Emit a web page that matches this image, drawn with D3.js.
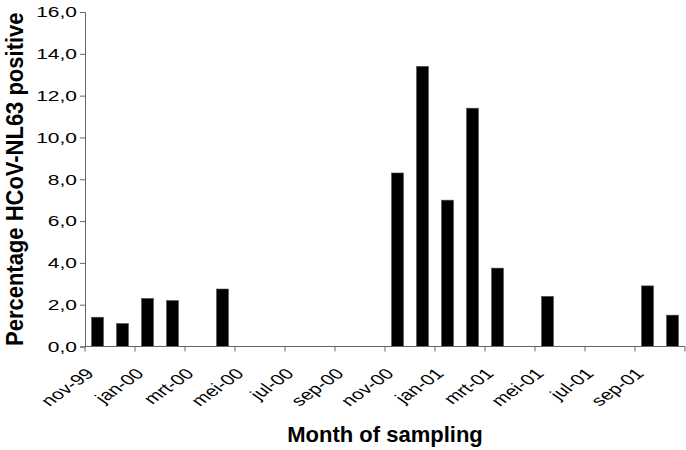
<!DOCTYPE html>
<html>
<head>
<meta charset="utf-8">
<script src="https://cdn.jsdelivr.net/npm/d3@7"></script>
<style>
  body { margin: 0; background: #fff; }
  text { font-family: Arial, "Liberation Sans", sans-serif; fill: #000; }
</style>
</head>
<body>
<svg id="chart" width="686" height="450"></svg>
<script>
// monthly samples nov-99 .. okt-01
var months = ['nov-99','dec-99','jan-00','feb-00','mrt-00','apr-00','mei-00','jun-00','jul-00','aug-00','sep-00','okt-00',
              'nov-00','dec-00','jan-01','feb-01','mrt-01','apr-01','mei-01','jun-01','jul-01','aug-01','sep-01','okt-01'];
var percent = [1.4, 1.1, 2.3, 2.2, 0, 2.75, 0, 0, 0, 0, 0, 0,
               8.3, 13.4, 7.0, 11.4, 3.75, 0, 2.4, 0, 0, 0, 2.9, 1.5];
var yTicks = [0, 2, 4, 6, 8, 10, 12, 14, 16];
var tickMonths = ['nov-99','jan-00','mrt-00','mei-00','jul-00','sep-00','nov-00','jan-01','mrt-01','mei-01','jul-01','sep-01'];

var svg = d3.select('#chart');
var mLeft = 85, mRight = 685, mTop = 12, mBottom = 346.5;
var stretch = 1.4; // tick labels in the original are widened horizontally

var x = d3.scaleBand().domain(months).range([mLeft, mRight]).paddingInner(0.52).paddingOuter(0.26);
var band = d3.scaleBand().domain(months).range([mLeft, mRight]); // ticks sit on band starts
var y = d3.scaleLinear().domain([0, 16]).range([mBottom, mTop]);

// bars
svg.append('g').selectAll('rect')
  .data(months.map(function(m, i){ return {m: m, v: percent[i]}; }).filter(function(d){ return d.v > 0; }))
  .join('rect')
  .attr('x', function(d){ return x(d.m); })
  .attr('width', x.bandwidth())
  .attr('y', function(d){ return y(d.v); })
  .attr('height', function(d){ return mBottom - y(d.v); })
  .attr('fill', '#000')
  .attr('stroke', '#555')
  .attr('stroke-width', 0.6);

// y axis
var yAxis = svg.append('g').attr('transform', 'translate(' + mLeft + ',0)')
  .call(d3.axisLeft(y).tickValues(yTicks).tickSize(5)
    .tickFormat(function(d){ return d3.format('.1f')(d).replace('.', ','); }));
yAxis.select('.domain').attr('stroke', '#666');
yAxis.selectAll('.tick line').attr('stroke', '#666');
yAxis.selectAll('text').attr('x', 0).attr('transform', 'translate(-8,0) scale(' + stretch + ',1)')
  .style('font-size', '15px').style('font-family', 'Arial, "Liberation Sans", sans-serif');

// x axis: ticks on month boundaries, every second month labelled
var xTickPos = months.filter(function(m, i){ return i % 2 == 0; }).map(function(m){ return band(m); });
xTickPos.push(mRight);
var xg = svg.append('g');
xg.append('line').attr('x1', mLeft).attr('x2', mRight).attr('y1', mBottom).attr('y2', mBottom).attr('stroke', '#666');
xg.selectAll('line.tick').data(xTickPos).join('line').attr('class', 'tick')
  .attr('x1', function(d){ return d; }).attr('x2', function(d){ return d; })
  .attr('y1', mBottom).attr('y2', mBottom + 5).attr('stroke', '#666');
xg.selectAll('text').data(tickMonths).join('text')
  .attr('transform', function(d){ return 'translate(' + (band(d) + 10) + ',' + (mBottom + 28) + ') scale(' + stretch + ',1) rotate(-45)'; })
  .attr('text-anchor', 'end')
  .style('font-size', '15px')
  .text(function(d){ return d; });

// titles
svg.append('text').attr('x', 385).attr('y', 442).attr('text-anchor', 'middle')
  .style('font-size', '22px').style('font-weight', 'bold').text('Month of sampling');
svg.append('text').attr('transform', 'translate(23,' + ((mTop + mBottom) / 2) + ') scale(1.1,1) rotate(-90)')
  .attr('text-anchor', 'middle').style('font-size', '22px').style('font-weight', 'bold')
  .text('Percentage HCoV-NL63 positive');
</script>
</body>
</html>
